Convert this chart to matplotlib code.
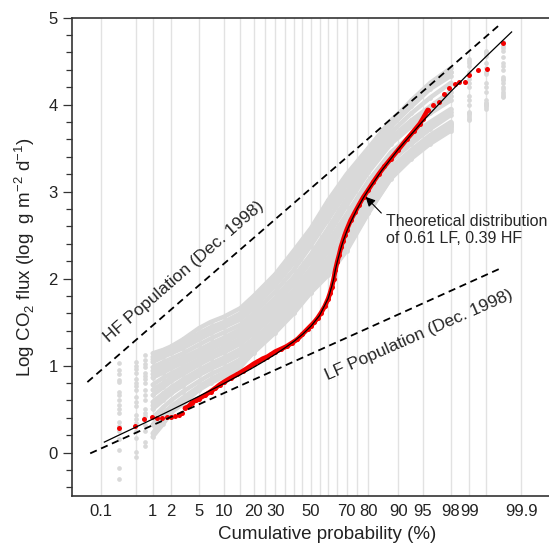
import numpy as np
import matplotlib
matplotlib.use("Agg")
import matplotlib.pyplot as plt
from matplotlib.ticker import MultipleLocator, FixedLocator
from statistics import NormalDist

plt.rcParams['font.family'] = ['Liberation Sans', 'DejaVu Sans']
plt.rcParams['mathtext.fontset'] = 'custom'
plt.rcParams['mathtext.rm'] = 'Liberation Sans'

# ---- data (cumulative probability in %, log CO2 flux) ----
tick_probs = [0.1, 1, 2, 5, 10, 20, 30, 50, 70, 80, 90, 95, 98, 99, 99.9]
grid_probs = [0.1, 0.5, 1, 2, 5, 10, 15, 20, 25, 30, 35, 40, 45, 50, 55, 60,
              65, 70, 75, 80, 90, 95, 98, 99, 99.5, 99.9]

# other surveys (grey)
gray_prob = [0.24, 0.5, 0.75, 1, 1.5, 2, 3, 5, 7, 10, 15, 20, 30, 40, 50, 60,
             70, 80, 88, 93, 96, 98, 99, 99.5, 99.76]
gray_surveys = [
    [1.03, 1.04, 1.12, 1.14, 1.18, 1.22, 1.30, 1.43, 1.50, 1.56, 1.66, 1.80, 2.05, 2.32, 2.58, 2.90, 3.20, 3.50, 3.82, 4.03, 4.22, 4.38, 4.50, 4.60, 4.72],
    [0.95, 1.00, 1.06, 1.10, 1.15, 1.19, 1.26, 1.37, 1.44, 1.50, 1.60, 1.74, 2.00, 2.26, 2.52, 2.84, 3.15, 3.46, 3.80, 4.05, 4.25, 4.42, 4.52, 4.62, 4.68],
    [0.90, 0.96, 1.02, 1.07, 1.12, 1.17, 1.23, 1.34, 1.40, 1.47, 1.57, 1.70, 1.96, 2.22, 2.48, 2.80, 3.12, 3.44, 3.78, 4.01, 4.21, 4.37, 4.48, 4.58, 4.65],
    [0.83, 0.92, 0.98, 1.04, 1.10, 1.14, 1.20, 1.30, 1.37, 1.44, 1.53, 1.66, 1.92, 2.18, 2.45, 2.76, 3.08, 3.42, 3.75, 3.98, 4.18, 4.33, 4.45, 4.56, 4.62],
    [0.81, 0.85, 0.92, 0.98, 1.04, 1.08, 1.14, 1.24, 1.31, 1.38, 1.47, 1.60, 1.85, 2.10, 2.38, 2.68, 3.00, 3.36, 3.68, 3.90, 4.08, 4.25, 4.38, 4.48, 4.55],
    [0.70, 0.80, 0.88, 0.94, 1.00, 1.03, 1.09, 1.18, 1.25, 1.32, 1.42, 1.54, 1.78, 2.02, 2.28, 2.58, 2.92, 3.30, 3.62, 3.82, 3.98, 4.15, 4.30, 4.42, 4.48],
    [0.66, 0.76, 0.84, 0.90, 0.96, 1.00, 1.06, 1.15, 1.22, 1.29, 1.39, 1.51, 1.74, 1.98, 2.24, 2.54, 2.88, 3.26, 3.58, 3.78, 3.94, 4.10, 4.25, 4.38, 4.44],
    [0.60, 0.72, 0.80, 0.86, 0.92, 0.97, 1.03, 1.12, 1.19, 1.26, 1.36, 1.48, 1.70, 1.94, 2.20, 2.50, 2.84, 3.22, 3.55, 3.75, 3.90, 4.05, 4.20, 4.35, 4.40],
    [0.55, 0.64, 0.72, 0.78, 0.86, 0.91, 0.98, 1.07, 1.14, 1.21, 1.31, 1.43, 1.64, 1.87, 2.12, 2.42, 2.74, 3.12, 3.45, 3.65, 3.80, 3.95, 4.10, 4.25, 4.32],
    [0.50, 0.58, 0.66, 0.72, 0.80, 0.86, 0.94, 1.04, 1.11, 1.18, 1.28, 1.40, 1.61, 1.84, 2.08, 2.37, 2.68, 3.06, 3.40, 3.60, 3.76, 3.92, 4.05, 4.20, 4.28],
    [0.45, 0.53, 0.60, 0.66, 0.75, 0.82, 0.90, 1.01, 1.08, 1.15, 1.25, 1.37, 1.58, 1.80, 2.04, 2.32, 2.63, 3.00, 3.35, 3.55, 3.72, 3.88, 4.00, 4.15, 4.25],
    [0.35, 0.43, 0.50, 0.58, 0.68, 0.75, 0.84, 0.95, 1.02, 1.09, 1.19, 1.31, 1.52, 1.74, 1.98, 2.24, 2.54, 2.92, 3.28, 3.48, 3.65, 3.80, 3.92, 4.05, 4.20],
    [0.30, 0.38, 0.46, 0.54, 0.64, 0.72, 0.80, 0.92, 0.99, 1.06, 1.16, 1.28, 1.50, 1.71, 1.95, 2.20, 2.50, 2.88, 3.25, 3.45, 3.62, 3.78, 3.90, 4.02, 4.18],
    [0.25, 0.34, 0.42, 0.50, 0.60, 0.68, 0.77, 0.89, 0.96, 1.03, 1.13, 1.26, 1.47, 1.68, 1.92, 2.16, 2.46, 2.85, 3.22, 3.42, 3.60, 3.76, 3.88, 4.00, 4.15],
    [0.15, 0.25, 0.32, 0.40, 0.52, 0.60, 0.70, 0.82, 0.90, 0.97, 1.07, 1.22, 1.44, 1.66, 1.90, 2.10, 2.40, 2.80, 3.18, 3.40, 3.57, 3.72, 3.84, 3.97, 4.12],
    [0.03, 0.17, 0.25, 0.32, 0.45, 0.53, 0.63, 0.76, 0.84, 0.92, 1.03, 1.18, 1.41, 1.62, 1.86, 2.06, 2.34, 2.76, 3.15, 3.38, 3.55, 3.70, 3.82, 3.95, 4.10],
    [-0.18, 0.01, 0.12, 0.22, 0.38, 0.48, 0.58, 0.73, 0.82, 0.88, 0.99, 1.15, 1.38, 1.60, 1.84, 2.04, 2.32, 2.75, 3.16, 3.40, 3.58, 3.74, 3.86, 4.00, 4.09],
    [-0.30, -0.05, 0.08, 0.18, 0.33, 0.46, 0.56, 0.72, 0.80, 0.87, 0.98, 1.17, 1.40, 1.62, 1.85, 2.08, 2.36, 2.78, 3.20, 3.44, 3.62, 3.78, 3.90, 4.02, 4.30],
]

# December 1998 survey (red)
red_prob = [0.24, 0.48, 0.72, 0.96, 1.2, 1.44, 1.7, 2.0, 2.3, 2.6,
            2.9, 3.2, 3.6, 4.0, 4.5, 5, 6, 7, 8, 9,
            10, 12, 14, 16, 18, 20, 22, 24, 26, 28,
            30, 33, 36, 39, 42, 45, 48, 50, 52, 54,
            56, 58, 60, 61, 62, 63, 64, 65, 66, 67,
            68, 69, 70, 72, 74, 76, 78, 80, 82, 84,
            86, 88, 90, 92, 93.5, 94.5, 95.0, 95.7, 96.3, 97.0,
            97.5, 97.9, 98.3, 98.5, 98.8, 99.0, 99.3, 99.52, 99.76]
red_flux = [0.28, 0.31, 0.38, 0.41, 0.40, 0.40, 0.41, 0.41, 0.42, 0.43,
            0.45, 0.51, 0.53, 0.57, 0.60, 0.62, 0.66, 0.70, 0.74, 0.78,
            0.81, 0.86, 0.90, 0.94, 0.98, 1.02, 1.05, 1.08, 1.10, 1.13,
            1.16, 1.19, 1.22, 1.26, 1.30, 1.36, 1.42, 1.46, 1.50, 1.55,
            1.61, 1.68, 1.77, 1.83, 1.90, 1.99, 2.10, 2.19, 2.27, 2.36,
            2.43, 2.50, 2.56, 2.67, 2.76, 2.85, 2.94, 3.02, 3.11, 3.20,
            3.29, 3.38, 3.48, 3.60, 3.70, 3.78, 3.84, 3.94, 4.00, 4.03,
            4.12, 4.19, 4.24, 4.26, 4.26, 4.34, 4.40, 4.41, 4.71]

# theoretical mixture 0.61 LF + 0.39 HF
theo_prob = [0.12, 0.2, 0.5, 1, 2, 5, 10, 15, 20, 25, 30, 35, 40, 45, 50, 55,
             60, 62, 63, 64, 65, 66, 67, 68, 70, 72, 75, 78, 80, 85, 90, 95,
             98, 99, 99.5, 99.84]
theo_flux = [0.120, 0.179, 0.291, 0.384, 0.488, 0.647, 0.793, 0.895, 0.980,
             1.057, 1.129, 1.202, 1.276, 1.358, 1.453, 1.575, 1.772, 1.91,
             1.99, 2.10, 2.19, 2.27, 2.35, 2.42, 2.541, 2.649, 2.796, 2.932,
             3.019, 3.240, 3.486, 3.812, 4.150, 4.365, 4.556, 4.836]

# population lines
hf_prob = [0.051, 99.71]
hf_flux = [0.81, 4.91]
lf_prob = [0.059, 99.76]
lf_flux = [-0.01, 2.13]

# ---- probability scale ----
_nd = NormalDist()


def _z(v):
    try:
        return _nd.inv_cdf(min(max(v / 100.0, 1e-9), 1 - 1e-9))
    except Exception:
        return np.nan


def _p(v):
    try:
        return _nd.cdf(v) * 100.0
    except Exception:
        return np.nan


to_z = np.vectorize(_z, otypes=[float])
from_z = np.vectorize(_p, otypes=[float])

fig = plt.figure(figsize=(5.49, 5.47), dpi=100)
ax = fig.add_axes([72.3 / 549, 1 - 496 / 547, 1 - 72.3 / 549, (496 - 17.7) / 547])
ax.set_xscale('function', functions=(to_z, from_z))

gray = '#d9d9d9'
for ys in gray_surveys:
    ax.plot(gray_prob, ys, 'o', ms=3.4, color=gray, mec='none', zorder=2)
    sel = [i for i, p in enumerate(gray_prob) if 1 <= p <= 98]
    ax.plot([gray_prob[i] for i in sel], [ys[i] for i in sel], '-',
            lw=3.2, color=gray, solid_capstyle='round', zorder=2)

red = '#f20000'
ax.plot(red_prob, red_flux, 'o', ms=3.6, color=red, mec='none', zorder=3)
sel = [i for i, p in enumerate(red_prob) if 3 <= p <= 96]
ax.plot([red_prob[i] for i in sel], [red_flux[i] for i in sel], '-',
        lw=3.4, color=red, solid_capstyle='round', zorder=3)

ax.plot(theo_prob, theo_flux, '-', color='black', lw=0.9, zorder=4)
ax.plot(hf_prob, hf_flux, '--', color='black', lw=1.3, dashes=(4, 2.6), zorder=4)
ax.plot(lf_prob, lf_flux, '--', color='black', lw=1.3, dashes=(4, 2.6), zorder=4)

txt = '#262626'
ax.text(3.10, 2.075, 'HF Population (Dec. 1998)', rotation=41, rotation_mode='anchor',
        ha='center', va='center', fontsize=12.5, color=txt)
ax.text(94.4, 1.35, 'LF Population (Dec. 1998)', rotation=23.8, rotation_mode='anchor',
        ha='center', va='center', fontsize=12.5, color=txt)
ax.annotate('Theoretical distribution\nof 0.61 LF, 0.39 HF', xy=(78.9, 2.94),
            xytext=(86.5, 2.56), ha='left', va='center', fontsize=11.5, color=txt,
            arrowprops=dict(arrowstyle='-|>', color='black', lw=0.8,
                            mutation_scale=14, shrinkA=2, shrinkB=0,
                            relpos=(0, 0.87)), zorder=5)

ax.set_xlim(0.0227, 99.9765)
ax.set_ylim(-0.5, 5)
ax.set_xticks(tick_probs)
ax.set_xticklabels([('%g' % t) for t in tick_probs])
ax.xaxis.set_minor_locator(FixedLocator(grid_probs))
ax.tick_params(axis='x', which='both', length=0, pad=6, labelsize=12, labelcolor='#222222')
ax.set_yticks([0, 1, 2, 3, 4, 5])
ax.yaxis.set_minor_locator(MultipleLocator(0.2))
ax.tick_params(axis='y', which='major', length=6.5, width=0.9, color='#333333',
               labelsize=12, labelcolor='#222222', pad=4)
ax.tick_params(axis='y', which='minor', length=4, width=0.9, color='#333333')
ax.grid(True, axis='x', which='both', color='#e2e2e2', lw=1.0)
ax.set_axisbelow(True)

for s in ['top', 'left', 'bottom']:
    ax.spines[s].set_color('#333333')
    ax.spines[s].set_linewidth(1.2)
ax.spines['right'].set_visible(False)

ax.set_xlabel('Cumulative probability (%)', fontsize=13.5, color='#222222')
ax.xaxis.set_label_coords(0.535, -0.062)
ax.set_ylabel(r'Log CO$_2$ flux (log  g m$^{-2}$ d$^{-1}$)', fontsize=13.5, color='#222222')
ax.yaxis.set_label_coords(-0.075, 0.5)

fig.savefig('out.png', dpi=100)
